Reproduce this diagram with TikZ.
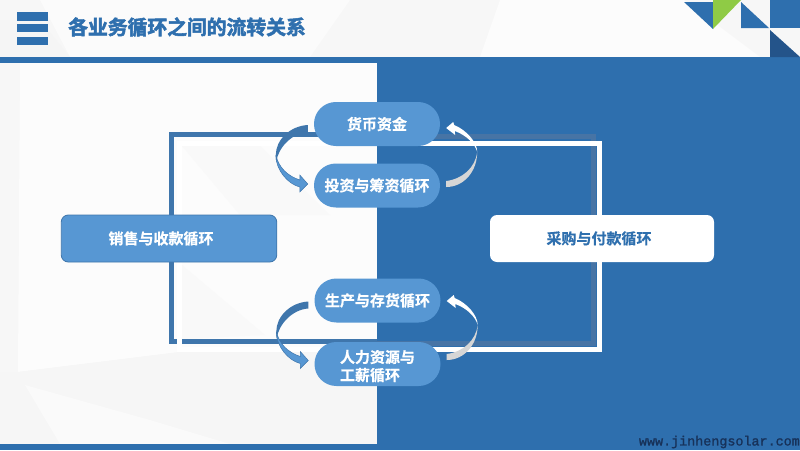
\documentclass[tikz,border=0pt]{standalone}
\usepackage{fontspec}
\setmainfont{Noto Sans CJK SC}
\newfontfamily\titlefont[FakeBold=2.6]{Noto Sans CJK SC Bold}
\newfontfamily\pillfont[FakeBold=0.5]{Noto Sans CJK SC Bold}
\newfontfamily\urlfont[FakeBold=1.4]{Liberation Mono}
\definecolor{panel}{HTML}{2E6FAE}
\definecolor{pillc}{HTML}{5797D3}
\definecolor{framec}{HTML}{3F76AC}
\definecolor{greyline}{HTML}{4774A5}
\definecolor{darktri}{HTML}{24548A}
\definecolor{leaf}{HTML}{8FCB45}
\definecolor{arrowdark}{HTML}{3F76AC}
\definecolor{arrowlight}{HTML}{5797D3}
\definecolor{arrowgrey}{HTML}{D6D6D6}
\definecolor{urlc}{HTML}{17325A}
\tikzset{
  pill/.style={fill=pillc,rounded corners=21.9pt,minimum width=126pt,minimum height=44pt,inner sep=0pt,
    text=white,font=\pillfont\fontsize{15}{18}\selectfont,align=left},
  bigbox/.style={rounded corners=7pt,minimum height=47pt,inner sep=0pt,font=\pillfont\fontsize{15}{18}\selectfont},
  leftcurve/.pic={
    \fill[arrowdark] (-6,1) .. controls (-24,2) and (-38,16) .. (-38,31) .. controls (-38,34) and (-38,36) .. (-37.5,38) .. controls (-36,24) and (-22,9) .. (-6,8) -- cycle;
    \filldraw[arrowlight,draw=arrowdark,line width=0.5pt] (-38,31) .. controls (-38,46) and (-26,60) .. (-14,63) -- (-14,68) -- (-6,60) -- (-14,51) -- (-14,56) .. controls (-26,52) and (-35,44) .. (-38,31) -- cycle;
  },
  rightcurve/.pic={
    \fill[arrowgrey] (6,63) .. controls (24,63) and (37,47) .. (37,28) .. controls (35,44) and (22,55) .. (6,57) -- cycle;
    \fill[white] (37,28) .. controls (37,18) and (26,6) .. (14,1) -- (13,-2) -- (6,4) -- (15,11) -- (14.5,7) .. controls (26,11) and (35,20) .. (37,28) -- cycle;
  }
}
\begin{document}
\begin{tikzpicture}[x=1pt,y=-1pt]
\useasboundingbox (0,0) rectangle (800,450);
% background
\fill[white!97!black] (0,0) rectangle (800,450);
\fill[white!99!black] (20,63) -- (377,63) -- (377,345) -- (180,352) -- (18,372) -- cycle;
\fill[white!96.5!black] (0,372) -- (18,372) -- (180,352) -- (377,345) -- (377,444) -- (0,444) -- cycle;
\fill[white!98!black] (60,444) -- (25,385) -- (150,420) -- (230,444) -- cycle;
\fill[white!97.5!black] (182,265) -- (265,335) -- (182,339) -- cycle;
\fill[white!97.5!black] (182,146) -- (260,146) -- (330,215) -- (240,215) -- cycle;
\fill[white!98.5!black] (40,0) -- (350,0) -- (310,57) -- (70,57) -- cycle;
\fill[white!96!black] (0,20) -- (40,20) -- (70,57) -- (0,57) -- cycle;
\fill[white!99!black] (500,0) -- (684,0) -- (760,57) -- (480,57) -- cycle;
% panel and bands
\fill[panel] (377,57) rectangle (800,450);
\fill[panel] (0,57) rectangle (800,63);
\fill[panel] (0,444) rectangle (800,450);
% header mark
\foreach \ya/\yb in {12/20.5,24/32,37/45} \fill[panel] (17,\ya) rectangle (47.5,\yb);
\node[anchor=west,inner sep=0pt,text=panel,font=\titlefont\fontsize{19.8}{22}\selectfont] (title) at (68,27) {各业务循环之间的流转关系};
% corner triangles
\fill[panel] (684,2) -- (713,2) -- (713,29) -- cycle;
\fill[leaf] (713,29) -- (713,0) -- (741,0) -- cycle;
\fill[panel] (741,2) -- (741,28) -- (769,28) -- cycle;
\fill[panel] (770,0) rectangle (800,28);
\fill[darktri] (770,30) -- (800,57) -- (770,57) -- cycle;
% frame
\coordinate (bl) at (171.5,341.7);
\coordinate (tl) at (171.5,134.5);
\coordinate (tm) at (377,134.5);
\coordinate (bm) at (377,341.7);
\draw[framec,line width=4.6pt,line join=miter] (bm) -- (bl) -- (tl) -- (tm);
\draw[greyline,line width=5.5pt,line join=miter] (tm) -- (377,136.5) -- (593.5,136.5) -- (593.5,343.5) -- (377,343.5) -- (bm);
\draw[white,line width=5pt,line join=miter] (179.5,143.5) rectangle (599.5,349.5);
% boxes
\node[bigbox,fill=pillc,draw=framec,line width=0.8pt,text=white,minimum width=215.5pt] (sales) at (169,238.5) {销售与收款循环\rule{16pt}{0pt}};
\node[bigbox,fill=white,text=panel,minimum width=224pt] (purchase) at (602,238.5) {采购与付款循环\rule{6pt}{0pt}};
% pills
\node[pill] (money) at (377,124) {货币资金};
\node[pill] (invest) at (377,185.5) {投资与筹资循环};
\node[pill] (prod) at (377.5,300.5) {生产与存货循环};
\node[pill] (hr) at (377.5,364) {\rule{0pt}{17pt}人力资源与\\工薪循环};
% curved arrows
\path (money.west) pic {leftcurve};
\path (money.east) pic {rightcurve};
\path (prod.west) pic {leftcurve};
\path ([yshift=3.5pt]prod.east) pic {rightcurve};
% footer
\node[anchor=east,inner sep=0pt,text=urlc,font=\urlfont\fontsize{13.4}{15}\selectfont] (url) at (800,442) {www.jinhengsolar.com};
\end{tikzpicture}
\end{document}
